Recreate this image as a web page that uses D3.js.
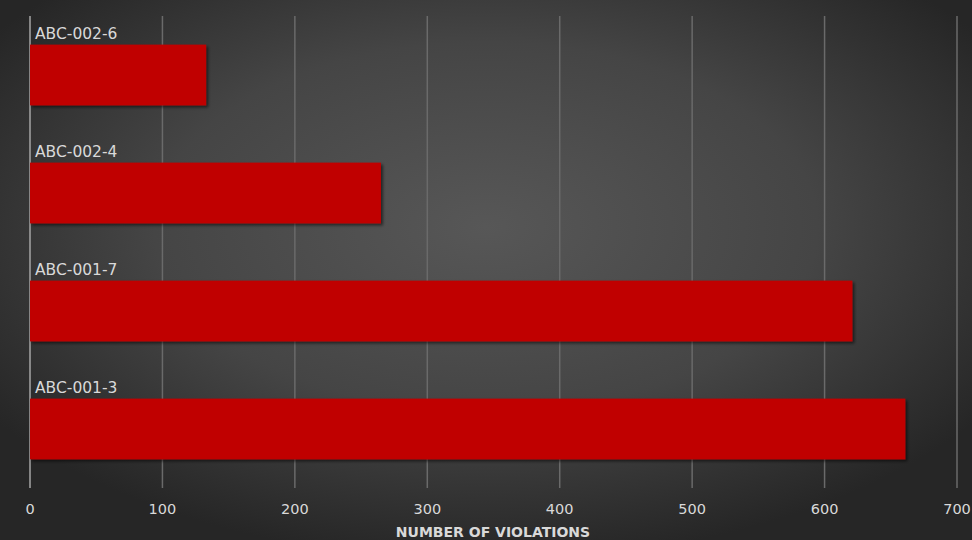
<!DOCTYPE html>
<html>
<head>
<meta charset="utf-8">
<script src="https://cdn.jsdelivr.net/npm/d3@7"></script>
<style>
  html, body { margin: 0; padding: 0; background: #2b2b2b; }
  svg { display: block; }
  text { font-family: 'DejaVu Sans', sans-serif; fill: #d9d9d9; }
</style>
</head>
<body>
<svg id="chart" width="972" height="540"></svg>
<script>
const categories = ['ABC-002-6', 'ABC-002-4', 'ABC-001-7', 'ABC-001-3']
const violations = [133, 265, 621, 661]
const xTicks = [0, 100, 200, 300, 400, 500, 600, 700]
const axisTitle = 'NUMBER OF VIOLATIONS'

const width = 972
const height = 540
const margin = { top: 16, right: 15, bottom: 52, left: 30 }

const svg = d3.select('#chart')
const defs = svg.append('defs')

// background glow, lighter in the middle
const grad = defs.append('radialGradient')
  .attr('id', 'bg')
  .attr('cx', '50%').attr('cy', '42%').attr('r', '62%')
grad.append('stop').attr('offset', '0%').attr('stop-color', '#575757')
grad.append('stop').attr('offset', '55%').attr('stop-color', '#454545')
grad.append('stop').attr('offset', '100%').attr('stop-color', '#262626')

const shadow = defs.append('filter').attr('id', 'shadow')
  .attr('x', '-5%').attr('y', '-10%').attr('width', '115%').attr('height', '130%')
shadow.append('feDropShadow')
  .attr('dx', 2).attr('dy', 2).attr('stdDeviation', 1.5)
  .attr('flood-color', '#000').attr('flood-opacity', 0.55)

svg.append('rect').attr('width', width).attr('height', height).attr('fill', 'url(#bg)')

const x = d3.scaleLinear()
  .domain([0, 700])
  .range([margin.left, width - margin.right])

const y = d3.scaleBand()
  .domain(categories)
  .range([margin.top, height - margin.bottom])
  .paddingInner(0.485)
  .paddingOuter(0.2425)

// gridlines
svg.append('g')
  .selectAll('line')
  .data(xTicks.slice(1))
  .join('line')
  .attr('x1', (d) => x(d)).attr('x2', (d) => x(d))
  .attr('y1', margin.top).attr('y2', height - margin.bottom)
  .attr('stroke', '#6a6a6a')
  .attr('stroke-width', 1.5)

// value axis line at zero
svg.append('line')
  .attr('x1', x(0)).attr('x2', x(0))
  .attr('y1', margin.top).attr('y2', height - margin.bottom)
  .attr('stroke', '#a6a6a6')
  .attr('stroke-width', 1.5)

// bars
svg.append('g')
  .selectAll('rect')
  .data(categories)
  .join('rect')
  .attr('x', x(0))
  .attr('y', (d) => y(d))
  .attr('width', (d, i) => x(violations[i]) - x(0))
  .attr('height', y.bandwidth())
  .attr('fill', '#c00000')
  .attr('filter', 'url(#shadow)')

// category labels above the bars
svg.append('g')
  .selectAll('text')
  .data(categories)
  .join('text')
  .attr('x', x(0) + 5)
  .attr('y', (d) => y(d) - 6)
  .attr('font-size', 15.5)
  .text((d) => d)

// tick labels
svg.append('g')
  .selectAll('text')
  .data(xTicks)
  .join('text')
  .attr('x', (d) => x(d))
  .attr('y', 514)
  .attr('text-anchor', 'middle')
  .attr('font-size', 14.5)
  .text((d) => d)

svg.append('text')
  .attr('x', 493)
  .attr('y', 537)
  .attr('text-anchor', 'middle')
  .attr('font-size', 14)
  .attr('font-weight', 'bold')
  .text(axisTitle)
</script>
</body>
</html>
